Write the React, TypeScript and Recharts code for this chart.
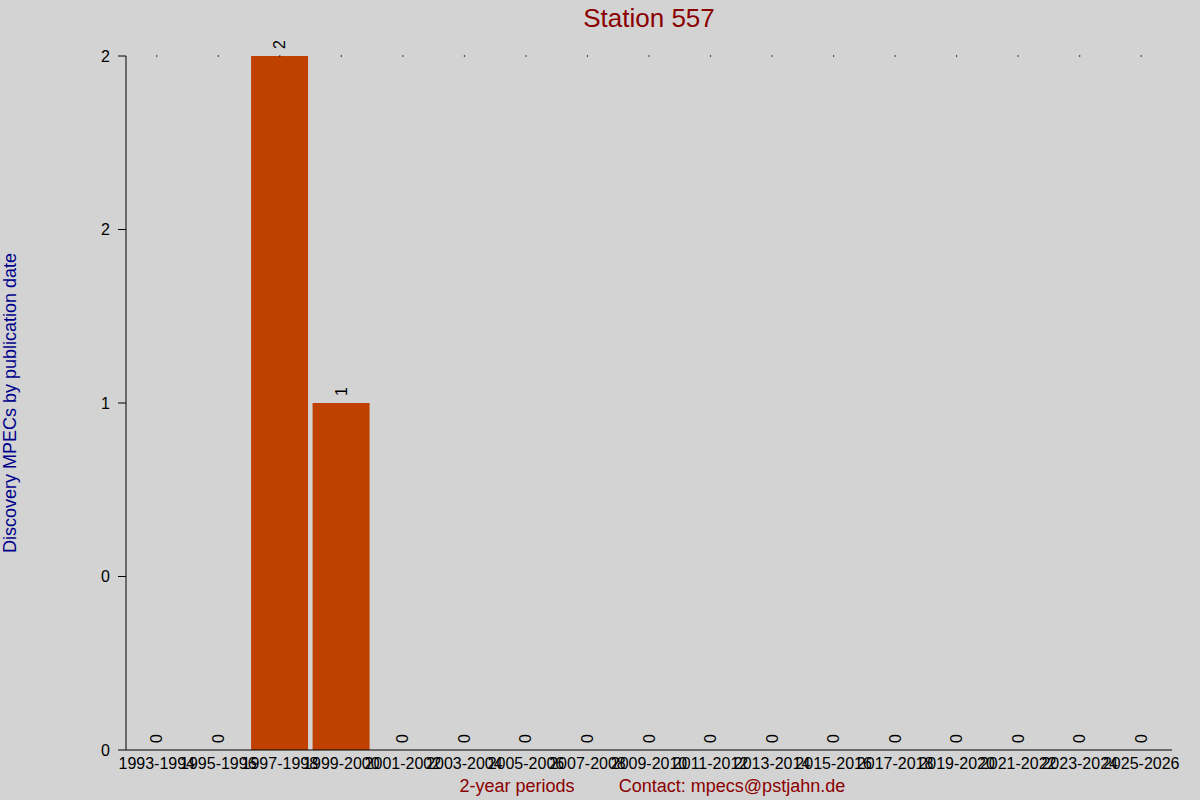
import { ComposedChart, Bar, Line, XAxis, YAxis, LabelList, ReferenceDot } from "recharts";

const periods = [
  "1993-1994", "1995-1996", "1997-1998", "1999-2000", "2001-2002", "2003-2004",
  "2005-2006", "2007-2008", "2009-2010", "2011-2012", "2013-2014", "2015-2016",
  "2017-2018", "2019-2020", "2021-2022", "2023-2024", "2025-2026",
];
const mpecCounts = [0, 0, 2, 1, 0, 0, 0, 0, 0, 0, 0, 0, 0, 0, 0, 0, 0];

// tick values and the (rounded) labels the original plot prints for them
const yTicks = [0, 0.5, 1, 1.5, 2];
const yTickLabels = ["0", "0", "1", "2", "2"];
const yMax = 2;

const data = periods.map((period, i) => ({ period, count: mpecCounts[i] }));

const FONT = '"Liberation Sans", Arial, sans-serif';
const BG = "#d3d3d3";
const BAR = "#c04000";
const DARK_RED = "#8b0000";
const NAVY = "#00008b";

// rotated value label sitting just above each bar top (also for zero bars)
function ValueLabel(props: any) {
  const { x, y, value } = props;
  const top = y - 7;
  return (
    <text
      x={x}
      y={top}
      transform={`rotate(-90 ${x} ${top})`}
      textAnchor="start"
      dominantBaseline="central"
      fontSize={16}
      fontFamily={FONT}
      fill="#000"
    >
      {value}
    </text>
  );
}

export default function App() {
  return (
    <div style={{ position: "absolute", left: 0, top: 0, width: 1200, height: 800, background: BG }}>
      <ComposedChart
        width={1200}
        height={800}
        data={data}
        margin={{ top: 56, right: 28, bottom: 0, left: 0 }}
        barSize={57}
      >
        <XAxis
          dataKey="period"
          height={50}
          interval={0}
          axisLine={{ stroke: "#000" }}
          tickLine={false}
          tickSize={0}
          tickMargin={8}
          tick={{ fill: "#000", fontSize: 16, fontFamily: FONT }}
        />
        <YAxis
          width={126}
          domain={[0, yMax]}
          ticks={yTicks}
          interval={0}
          tickFormatter={(v: number) => yTickLabels[yTicks.indexOf(v)] ?? String(v)}
          axisLine={{ stroke: "#000" }}
          tickLine={{ stroke: "#000" }}
          tickSize={8}
          tickMargin={8}
          tick={{ fill: "#000", fontSize: 16, fontFamily: FONT }}
        />
        <Bar dataKey="count" fill={BAR} isAnimationActive={false} />
        <Line
          dataKey="count"
          stroke="none"
          dot={false}
          activeDot={false}
          isAnimationActive={false}
        >
          <LabelList dataKey="count" content={ValueLabel} />
        </Line>
        {/* tiny tick marks along the top edge of the plot */}
        {periods.map((p) => (
          <ReferenceDot
            key={p}
            x={p}
            y={yMax}
            r={0.7}
            fill="#000"
            stroke="none"
            ifOverflow="visible"
          />
        ))}
      </ComposedChart>
      <svg width={1200} height={800} style={{ position: "absolute", left: 0, top: 0, pointerEvents: "none" }}>
        <text x={649} y={27} textAnchor="middle" fontSize={26} fontFamily={FONT} fill={DARK_RED}>
          Station 557
        </text>
        <text
          x={15.5}
          y={403}
          transform="rotate(-90 15.5 403)"
          textAnchor="middle"
          fontSize={18}
          fontFamily={FONT}
          fill={NAVY}
        >
          Discovery MPECs by publication date
        </text>
        <text x={517} y={792} textAnchor="middle" fontSize={18} fontFamily={FONT} fill={DARK_RED}>
          2-year periods
        </text>
        <text x={732} y={792} textAnchor="middle" fontSize={18} fontFamily={FONT} fill={DARK_RED}>
          Contact: mpecs@pstjahn.de
        </text>
      </svg>
    </div>
  );
}
